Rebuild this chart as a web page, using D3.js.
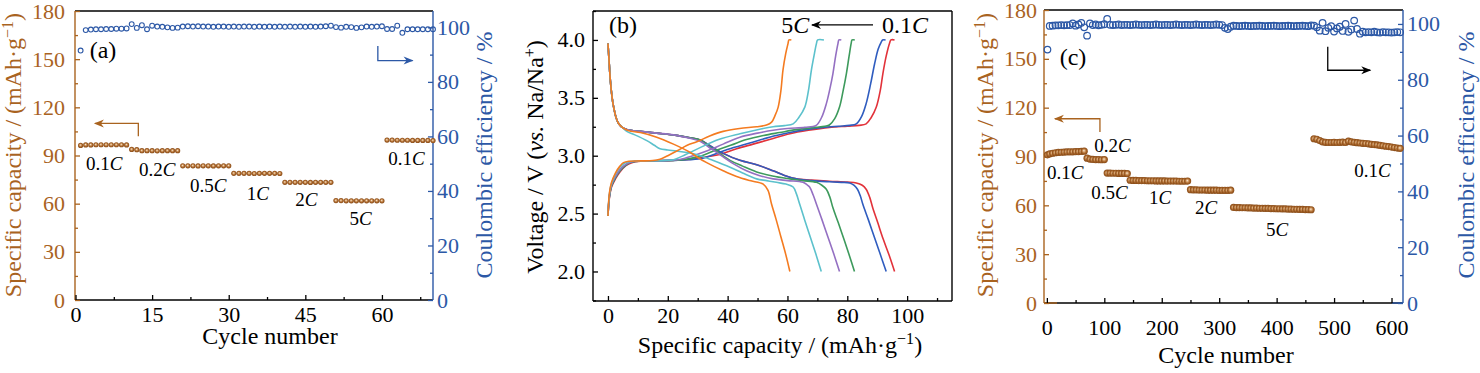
<!DOCTYPE html>
<html>
<head>
<meta charset="utf-8">
<script src="https://cdn.jsdelivr.net/npm/d3@7"></script>
<style>
  html, body { margin: 0; padding: 0; background: #fff; }
  svg { display: block; font-family: 'Liberation Serif', 'Times New Roman', serif; }
</style>
</head>
<body>
<div id="chart"></div>
<script>
// ---------- data ----------
// (a) rate test, 10 cycles per rate
const cyclesA = d3.range(1, 71);
const capacityA = [
  96.3, 96.6, 96.6, 96.7, 96.7, 96.7, 96.7, 96.7, 96.7, 96.6,
  93.8, 93.6, 93.0, 93.0, 93.0, 92.9, 93.0, 93.0, 93.0, 93.0,
  83.6, 83.6, 83.6, 83.5, 83.6, 83.6, 83.5, 83.6, 83.6, 83.6,
  78.9, 78.9, 78.9, 78.9, 78.8, 78.9, 78.9, 78.9, 78.9, 78.8,
  73.3, 73.3, 73.3, 73.3, 73.3, 73.2, 73.3, 73.3, 73.3, 73.3,
  61.9, 61.9, 61.8, 61.8, 61.8, 61.8, 61.8, 61.8, 61.8, 61.8,
  99.6, 99.6, 99.5, 99.5, 99.5, 99.4, 99.4, 99.4, 99.4, 99.3
];
const ceA = [
  91.5, 99.0, 99.2, 99.3, 99.3, 99.4, 99.4, 99.5, 99.5, 99.6,
  101.2, 99.8, 100.8, 99.3, 100.6, 100.3, 100.2, 100.0, 99.8, 99.9,
  100.3, 100.4, 100.3, 100.4, 100.3, 100.3, 100.2, 100.3, 100.3, 100.2,
  100.3, 100.2, 100.3, 100.3, 100.2, 100.3, 100.2, 100.3, 100.2, 100.3,
  100.2, 100.3, 100.2, 100.3, 100.2, 100.3, 100.2, 100.3, 100.4, 100.6,
  100.1, 99.9, 100.2, 100.1, 99.8, 100.0, 100.3, 100.2, 100.3, 100.4,
  99.4, 99.4, 100.6, 98.0, 99.3, 99.3, 99.3, 99.3, 99.3, 99.3
];
const rateLabelsA = [
  ['0.1', 5.6, 81], ['0.2', 16, 77], ['0.5', 26, 67.5], ['1', 35.7, 62.3],
  ['2', 45.2, 58.5], ['5', 55.8, 46.7], ['0.1', 64.8, 84]
];

// (c) long-term rate test, every 5th cycle
const cyclesC = [1].concat(d3.range(5, 616, 5));
const capacityC = [
  91.0,
  91.6, 92.0, 92.3, 92.5, 92.6, 92.7, 92.8, 92.9, 92.9, 93.0, 93.0, 93.1, 93.3,
  89.0, 88.4, 88.2, 88.1, 88.1, 88.0, 88.1,
  79.8, 79.8, 79.7, 79.7, 79.6, 79.6, 79.6, 79.5,
  75.4, 75.3, 75.3, 75.2, 75.2, 75.2, 75.1, 75.1, 75.1, 75.0, 75.0,
  75.0, 75.0, 74.9, 74.9, 74.9, 74.9, 74.8, 74.8, 74.8, 74.9,
  69.6, 69.5, 69.5, 69.4, 69.4, 69.4, 69.3, 69.3, 69.3, 69.3, 69.2, 69.2, 69.2, 69.2, 69.3,
  58.7, 58.6, 58.6, 58.5, 58.5, 58.4, 58.4, 58.3, 58.3, 58.2, 58.2, 58.1, 58.1, 58.0,
  58.0, 57.9, 57.9, 57.8, 57.8, 57.7, 57.7, 57.6, 57.6, 57.5, 57.5, 57.4, 57.4, 57.3,
  100.9, 100.6, 99.8, 99.0, 98.7, 98.6, 98.6, 98.7, 98.6, 98.7, 98.8, 98.6, 99.4, 99.0, 98.7,
  98.5, 98.3, 98.1, 98.0, 97.8, 97.5, 97.3, 97.1, 96.8, 96.6, 96.3, 96.1, 95.8, 95.5, 95.2, 95.0
];
const ceC = [
  90.8,
  99.3, 99.4, 99.5, 99.5, 99.6, 99.5, 99.6, 99.6, 100.2, 99.4, 99.8, 100.4, 98.8,
  95.8, 100.2, 99.6, 99.8, 99.5, 99.7, 99.9, 101.8,
  99.7, 99.6, 99.7, 99.8, 99.6, 99.7, 99.7, 99.6, 99.7, 99.8, 99.7, 99.6, 99.7,
  99.7, 99.6, 99.7, 99.8, 99.7, 99.6, 99.7, 99.7, 99.6, 99.7, 99.8, 99.7, 99.6,
  99.7, 99.7, 99.6, 99.7, 99.8, 99.7, 99.6, 99.7, 99.7, 99.6, 99.7, 99.8, 99.7, 99.6,
  98.6, 98.2, 99.0, 99.4,
  99.3, 99.2, 99.3, 99.4, 99.3, 99.2, 99.3, 99.3, 99.4, 99.3, 99.2, 99.3, 99.3, 99.4,
  99.3, 99.2, 99.3, 99.3, 99.4, 99.3, 99.2, 99.3, 99.3, 99.4, 99.3, 99.2, 99.5, 99.4,
  98.8, 97.6, 100.4, 97.4, 98.6, 99.2, 97.3, 98.4, 99.0, 97.5, 100.0, 97.2, 98.0, 101.2, 98.2, 96.5,
  97.2, 97.0, 97.1, 97.0, 97.2, 97.0, 96.9, 97.1, 97.0, 97.0, 96.9, 97.0, 97.1, 97.0, 96.9
];
const rateLabelsC = [
  ['0.1', 32, 76.4], ['0.2', 114, 92.7], ['0.5', 109, 63.9], ['1', 197, 60.8],
  ['2', 277, 54.7], ['5', 401, 41.3], ['0.1', 567, 77.2]
];

// (b) charge / discharge profiles, [capacity, voltage]
const profileNames = ['0.1C', '0.2C', '0.5C', '1C', '2C', '5C'];
const profileColors = ['#e2323a', '#2f5cbf', '#3d9a5c', '#9470c2', '#5cc1cc', '#f47b20'];
const charge01 = [[0,2.48],[0.5,2.64],[1.2,2.73],[2.5,2.80],[4,2.86],[6,2.915],[8,2.94],[11,2.952],[16,2.956],[22,2.96],[28,2.97],[33,2.99],[37.4,3.01],[43,3.06],[48.5,3.10],[54,3.14],[60.8,3.19],[67,3.22],[74,3.245],[80,3.255],[84,3.262],[86.3,3.275],[88,3.33],[89.7,3.42],[91,3.56],[91.9,3.71],[93,3.86],[94.1,3.97],[94.6,4.0],[95.8,4.0]];
const charge02 = [[0,2.48],[0.5,2.65],[1.2,2.74],[2.5,2.81],[4,2.87],[6,2.92],[8,2.945],[11,2.953],[16,2.956],[22,2.96],[27,2.965],[32,2.98],[36.3,3.02],[42,3.07],[47.4,3.11],[54,3.16],[60.8,3.20],[66,3.225],[71.9,3.245],[77,3.255],[80.8,3.262],[83,3.275],[84.8,3.34],[86.3,3.45],[87.8,3.62],[89.1,3.79],[90.3,3.92],[91.3,3.98],[91.8,4.0],[92.8,4.0]];
const charge05 = [[0,2.48],[0.5,2.65],[1.2,2.74],[2.5,2.81],[4,2.87],[6,2.92],[8,2.945],[11,2.953],[16,2.956],[21,2.958],[25,2.965],[30,2.99],[35.3,3.04],[41,3.09],[46.3,3.14],[52,3.175],[57.4,3.20],[63,3.225],[69.6,3.245],[72.5,3.255],[74,3.265],[75.8,3.32],[77.4,3.42],[78.6,3.56],[79.7,3.71],[80.6,3.86],[81.3,3.97],[81.6,4.0],[82.5,4.0]];
const charge1 = [[0,2.48],[0.5,2.66],[1.2,2.75],[2.5,2.82],[4,2.88],[6,2.925],[8,2.948],[11,2.955],[16,2.957],[20,2.96],[24,2.967],[28.5,3.0],[33,3.04],[38.5,3.10],[44.1,3.16],[50,3.195],[55.2,3.22],[60,3.235],[65.8,3.245],[69.6,3.262],[71.4,3.33],[73,3.45],[74.2,3.58],[75.2,3.71],[76.1,3.86],[76.9,3.97],[77.2,4.0],[78,4.0]];
const charge2 = [[0,2.48],[0.5,2.67],[1.2,2.76],[2.5,2.84],[4,2.9],[5.5,2.935],[7.5,2.95],[11,2.955],[16,2.957],[19,2.96],[21.9,2.965],[26,3.01],[30.8,3.07],[37,3.14],[44.1,3.19],[50,3.225],[55.2,3.25],[59,3.26],[61.9,3.275],[63.8,3.33],[65.8,3.42],[67,3.56],[68,3.74],[69,3.88],[69.7,3.97],[70.1,4.0],[72.2,4.0]];
const charge5 = [[0,2.48],[0.5,2.68],[1.2,2.77],[2.5,2.85],[4,2.91],[5.2,2.94],[7,2.952],[11,2.955],[15,2.958],[17.4,2.97],[20,3.0],[23,3.04],[26.5,3.09],[29.7,3.12],[34,3.17],[38.5,3.21],[44,3.235],[49.7,3.25],[53,3.265],[54.7,3.29],[55.9,3.35],[56.9,3.42],[57.8,3.56],[58.5,3.74],[59.4,3.88],[60.2,3.97],[60.5,4.0],[61.3,4.0]];
const discharge01 = [[0,3.97],[0.3,3.85],[0.8,3.65],[1.4,3.5],[1.9,3.42],[2.7,3.33],[3.5,3.28],[5,3.24],[6.5,3.225],[10.8,3.21],[16.3,3.195],[21.9,3.18],[27.4,3.155],[30.8,3.135],[34.5,3.08],[38.5,3.02],[44.1,2.96],[50,2.92],[55.2,2.87],[59,2.83],[63,2.80],[68,2.79],[74,2.78],[80,2.772],[83,2.765],[85,2.745],[86.3,2.71],[87.5,2.64],[88.5,2.55],[90.2,2.42],[92,2.28],[94,2.14],[95.8,2.0]];
const discharge02 = [[0,3.97],[0.3,3.85],[0.8,3.65],[1.4,3.5],[1.9,3.42],[2.7,3.33],[3.5,3.28],[5,3.24],[6.5,3.225],[10.8,3.21],[16.3,3.195],[21.9,3.18],[27.4,3.155],[30.8,3.135],[34.5,3.08],[38.5,3.02],[44.1,2.96],[50,2.92],[55.2,2.87],[59,2.83],[63,2.80],[68,2.785],[74,2.775],[78,2.77],[80.8,2.765],[82.2,2.745],[83.4,2.71],[84.4,2.65],[85.2,2.58],[87,2.45],[89,2.3],[91,2.15],[93,2.0]];
const discharge05 = [[0,3.97],[0.3,3.85],[0.8,3.65],[1.4,3.5],[1.9,3.42],[2.7,3.33],[3.5,3.28],[5,3.24],[6.5,3.225],[10.8,3.21],[16.3,3.195],[21.9,3.18],[27.4,3.155],[30.8,3.135],[35,3.06],[40.8,2.96],[45,2.91],[49.7,2.86],[55,2.825],[60.8,2.80],[65,2.785],[69.7,2.77],[71.5,2.745],[73,2.71],[74.2,2.64],[75.2,2.55],[77,2.42],[79,2.27],[80.8,2.13],[82.4,2.0]];
const discharge1 = [[0,3.97],[0.3,3.85],[0.8,3.65],[1.4,3.5],[1.9,3.42],[2.7,3.33],[3.5,3.28],[5,3.24],[6.5,3.225],[10.8,3.21],[16.3,3.195],[21.9,3.18],[27.4,3.15],[30.8,3.125],[34.5,3.06],[38.5,2.99],[42,2.93],[46.3,2.87],[50.5,2.83],[55.2,2.80],[60,2.785],[65.2,2.77],[66.5,2.75],[67.4,2.73],[68.6,2.66],[69.7,2.58],[71.5,2.45],[73.5,2.3],[75.5,2.15],[77.4,2.0]];
const discharge2 = [[0,3.97],[0.3,3.85],[0.8,3.65],[1.4,3.5],[1.9,3.42],[2.7,3.33],[3.5,3.28],[5,3.24],[6.3,3.21],[9,3.18],[13,3.13],[15.5,3.09],[17.4,3.06],[20,3.05],[23,3.04],[27,3.025],[30.8,3.0],[35,2.96],[40.8,2.90],[45,2.85],[49.7,2.80],[53,2.785],[56.3,2.77],[59.5,2.755],[61.9,2.73],[63,2.67],[64.1,2.58],[65.7,2.45],[67.6,2.3],[69.5,2.15],[71.3,2.0]];
const discharge5 = [[0,3.97],[0.3,3.85],[0.8,3.65],[1.4,3.5],[1.9,3.42],[2.7,3.33],[3.5,3.28],[5,3.24],[7,3.215],[10.8,3.2],[16.3,3.16],[21.9,3.10],[27.4,3.03],[30,2.985],[33,2.94],[38.5,2.87],[43,2.82],[47.4,2.785],[51.9,2.755],[53.5,2.70],[54.7,2.58],[56.2,2.45],[57.8,2.3],[59.4,2.15],[60.8,2.0]];
const chargeProfiles = [charge01, charge02, charge05, charge1, charge2, charge5];
const dischargeProfiles = [discharge01, discharge02, discharge05, discharge1, discharge2, discharge5];

// ---------- layout ----------
const width = 1480;
const height = 373;
const brown = '#a9631f';
const blue = '#2c58a6';
const FONT = "'Liberation Serif', 'Times New Roman', serif";

const A = { left: 75, right: 433, top: 11, bottom: 300 };
const B = { left: 593, right: 952, top: 11, bottom: 301 };
const C = { left: 1044, right: 1403, top: 10, bottom: 303 };

const xA = d3.scaleLinear([-0.1, 70], [A.left, A.right]);
const yA = d3.scaleLinear([0, 180], [A.bottom, A.top]);
const yA2 = d3.scaleLinear([0, 106], [A.bottom, A.top]);
const xB = d3.scaleLinear([-5, 115], [B.left, B.right]);
const yB = d3.scaleLinear([1.745, 4.25], [B.bottom, B.top]);
const xC = d3.scaleLinear([-5, 620], [C.left, C.right]);
const yC = d3.scaleLinear([0, 180], [C.bottom, C.top]);
const yC2 = d3.scaleLinear([0, 105], [C.bottom, C.top]);

const svg = d3.select('#chart').append('svg')
  .attr('width', width).attr('height', height)
  .attr('viewBox', [0, 0, width, height]);
svg.append('rect').attr('width', width).attr('height', height).attr('fill', '#fff');

const defs = svg.append('defs');
const ball = defs.append('radialGradient').attr('id', 'ball')
  .attr('cx', '50%').attr('cy', '50%').attr('r', '50%').attr('fx', '45%').attr('fy', '42%');
ball.append('stop').attr('offset', '0%').attr('stop-color', '#f7ead8');
ball.append('stop').attr('offset', '30%').attr('stop-color', '#d8a672');
ball.append('stop').attr('offset', '65%').attr('stop-color', '#a8652a');
ball.append('stop').attr('offset', '100%').attr('stop-color', '#874a16');

function arrowMarker(id, color) {
  defs.append('marker').attr('id', id)
    .attr('viewBox', '0 0 10 10').attr('refX', 9).attr('refY', 5)
    .attr('markerWidth', 11).attr('markerHeight', 10)
    .attr('markerUnits', 'userSpaceOnUse').attr('orient', 'auto')
    .append('path').attr('d', 'M0,1 L10,5 L0,9 L3,5 Z').attr('fill', color);
}
arrowMarker('arBrown', brown);
arrowMarker('arBlue', blue);
arrowMarker('arBlack', '#000');

// axis helper: ticks point inward, domain drawn separately
function drawAxis(gen, tr, color, major, minor, pad, fmt) {
  const g = svg.append('g').attr('transform', tr);
  g.call(gen.tickValues(major).tickSize(-5).tickPadding(pad).tickFormat(fmt || null));
  g.append('g').call(gen.tickValues(minor).tickSize(-3).tickFormat(''));
  g.selectAll('.domain').remove();
  g.selectAll('line').attr('stroke', color).attr('stroke-width', 1.3);
  g.selectAll('text').attr('fill', color).attr('font-size', 22).attr('font-family', FONT);
  return g;
}

function frame(P, cLeft, cRight) {
  const g = svg.append('g').attr('fill', 'none').attr('stroke-width', 1.4);
  g.append('line').attr('x1', P.left).attr('x2', P.right).attr('y1', P.top).attr('y2', P.top).attr('stroke', '#000');
  g.append('line').attr('x1', P.left).attr('x2', P.right).attr('y1', P.bottom).attr('y2', P.bottom).attr('stroke', '#000');
  g.append('line').attr('x1', P.left).attr('x2', P.left).attr('y1', P.top).attr('y2', P.bottom).attr('stroke', cLeft);
  g.append('line').attr('x1', P.right).attr('x2', P.right).attr('y1', P.top).attr('y2', P.bottom).attr('stroke', cRight);
  return g;
}

function text(x, y, size, color, anchor) {
  return svg.append('text').attr('x', x).attr('y', y)
    .attr('font-size', size).attr('fill', color)
    .attr('text-anchor', anchor || 'middle').attr('font-family', FONT);
}

// rotated axis title: cx is the visual centre of the glyphs
function vTitle(cx, cy, color) {
  return svg.append('text')
    .attr('transform', `translate(${cx},${cy}) rotate(-90)`)
    .attr('dy', '0.35em').attr('text-anchor', 'middle')
    .attr('font-size', 24).attr('fill', color).attr('font-family', FONT);
}

function capacityTitle(t) {
  t.append('tspan').text('Specific capacity / (mAh·g');
  t.append('tspan').text('−1').attr('font-size', 16).attr('dy', '-0.55em');
  t.append('tspan').text(')').attr('dy', '0.37em');
}

function rateLabel(label, x, y) {
  const t = text(x, y, 19, '#000');
  t.append('tspan').text(label);
  t.append('tspan').text('C').attr('font-style', 'italic');
}

// ---------- panel (a) ----------
frame(A, brown, blue);
drawAxis(d3.axisLeft(yA), `translate(${A.left},0)`, brown, d3.range(0, 181, 30), d3.range(15, 180, 30), 10);
drawAxis(d3.axisRight(yA2), `translate(${A.right},0)`, blue, d3.range(0, 101, 20), d3.range(10, 100, 20), 4);
drawAxis(d3.axisBottom(xA), `translate(0,${A.bottom})`, '#000', [0, 15, 30, 45, 60], [7.5, 22.5, 37.5, 52.5, 67.5], 6);

svg.append('g').selectAll('circle').data(cyclesA).join('circle')
  .attr('cx', d => xA(d)).attr('cy', (d, i) => yA2(ceA[i])).attr('r', 2.4)
  .attr('fill', 'none').attr('stroke', blue).attr('stroke-width', 1.1);
svg.append('g').selectAll('circle').data(cyclesA).join('circle')
  .attr('cx', d => xA(d)).attr('cy', (d, i) => yA(capacityA[i])).attr('r', 2.6)
  .attr('fill', 'url(#ball)');

rateLabelsA.forEach(d => rateLabel(d[0], xA(d[1]), yA(d[2])));
text(A.left + 28, 58, 24, '#000').text('(a)');

svg.append('path').attr('fill', 'none').attr('stroke', brown).attr('stroke-width', 1.3)
  .attr('d', d3.line()([[xA(12.3), yA(102)], [xA(12.3), yA(110)], [xA(3.8), yA(110)]]))
  .attr('marker-end', 'url(#arBrown)');
svg.append('path').attr('fill', 'none').attr('stroke', blue).attr('stroke-width', 1.3)
  .attr('d', d3.line()([[xA(59.2), yA2(93.2)], [xA(59.2), yA2(87.8)], [xA(66), yA2(87.8)]]))
  .attr('marker-end', 'url(#arBlue)');

capacityTitle(vTitle(13, 155, brown));
vTitle(484, 155, blue).text('Coulombic efficiency / %');
text(270, 344, 24, '#000').text('Cycle number');

// ---------- panel (b) ----------
frame(B, '#000', '#000');
drawAxis(d3.axisLeft(yB), `translate(${B.left},0)`, '#000', [2, 2.5, 3, 3.5, 4], [1.75, 2.25, 2.75, 3.25, 3.75, 4.25], 8, d3.format('.1f'));
drawAxis(d3.axisBottom(xB), `translate(0,${B.bottom})`, '#000', d3.range(0, 101, 20), d3.range(10, 111, 20), 6);

const profileLine = d3.line()
  .x(d => xB(d[0])).y(d => yB(d[1]))
  .curve(d3.curveCatmullRom.alpha(0.5));
const gB = svg.append('g').attr('fill', 'none').attr('stroke-width', 1.6);
profileNames.forEach((name, i) => {
  gB.append('path').attr('d', profileLine(chargeProfiles[i])).attr('stroke', profileColors[i]);
  gB.append('path').attr('d', profileLine(dischargeProfiles[i])).attr('stroke', profileColors[i]);
});

text(B.left + 30, 33, 24, '#000').text('(b)');
const t5 = text(xB(67.3), 33, 24, '#000', 'end');
t5.append('tspan').text('5');
t5.append('tspan').text('C').attr('font-style', 'italic');
const t01 = text(xB(91.6), 33, 24, '#000', 'start');
t01.append('tspan').text('0.1');
t01.append('tspan').text('C').attr('font-style', 'italic');
svg.append('path').attr('fill', 'none').attr('stroke', '#000').attr('stroke-width', 1.3)
  .attr('d', d3.line()([[xB(88.6), yB(4.13)], [xB(68.2), yB(4.13)]]))
  .attr('marker-end', 'url(#arBlack)');

const vt = vTitle(535, 157, '#000');
vt.append('tspan').text('Voltage / V (');
vt.append('tspan').text('vs.').attr('font-style', 'italic');
vt.append('tspan').text(' Na/Na');
vt.append('tspan').text('+').attr('font-size', 16).attr('dy', '-0.55em');
vt.append('tspan').text(')').attr('dy', '0.37em');
const bt = text(780, 353, 24, '#000');
bt.append('tspan').text('Specific capacity / (mAh·g');
bt.append('tspan').text('−1').attr('font-size', 16).attr('dy', '-0.55em');
bt.append('tspan').text(')').attr('dy', '0.37em');

// ---------- panel (c) ----------
frame(C, brown, blue);
svg.append('line').attr('x1', C.left).attr('x2', C.left + 13).attr('y1', C.bottom).attr('y2', C.bottom)
  .attr('stroke', brown).attr('stroke-width', 1.4);
svg.append('line').attr('x1', C.right - 11).attr('x2', C.right).attr('y1', C.bottom).attr('y2', C.bottom)
  .attr('stroke', blue).attr('stroke-width', 1.4);
drawAxis(d3.axisLeft(yC), `translate(${C.left},0)`, brown, d3.range(0, 181, 30), d3.range(15, 180, 30), 7);
drawAxis(d3.axisRight(yC2), `translate(${C.right},0)`, blue, d3.range(0, 101, 20), d3.range(10, 100, 20), 4);
drawAxis(d3.axisBottom(xC), `translate(0,${C.bottom})`, '#000', d3.range(0, 601, 100), d3.range(50, 600, 100), 16);

svg.append('g').selectAll('circle').data(cyclesC).join('circle')
  .attr('cx', d => xC(d)).attr('cy', (d, i) => yC2(ceC[i])).attr('r', 3.3)
  .attr('fill', 'none').attr('stroke', blue).attr('stroke-width', 1.2);
svg.append('g').selectAll('circle').data(cyclesC).join('circle')
  .attr('cx', d => xC(d)).attr('cy', (d, i) => yC(capacityC[i])).attr('r', 3.6)
  .attr('fill', 'url(#ball)');

rateLabelsC.forEach(d => rateLabel(d[0], xC(d[1]), yC(d[2])));
text(C.left + 29, 65, 24, '#000').text('(c)');

svg.append('path').attr('fill', 'none').attr('stroke', brown).attr('stroke-width', 1.3)
  .attr('d', d3.line()([[xC(92.4), yC(105)], [xC(92.4), yC(113.2)], [xC(14), yC(113.2)]]))
  .attr('marker-end', 'url(#arBrown)');
svg.append('path').attr('fill', 'none').attr('stroke', '#000').attr('stroke-width', 1.3)
  .attr('d', d3.line()([[xC(489), yC2(91.8)], [xC(489), yC2(83.4)], [xC(563), yC2(83.4)]]))
  .attr('marker-end', 'url(#arBlack)');

capacityTitle(vTitle(985, 155, brown));
vTitle(1466, 155, blue).text('Coulombic efficiency / %');
text(1226, 363, 24, '#000').text('Cycle number');
</script>
</body>
</html>
